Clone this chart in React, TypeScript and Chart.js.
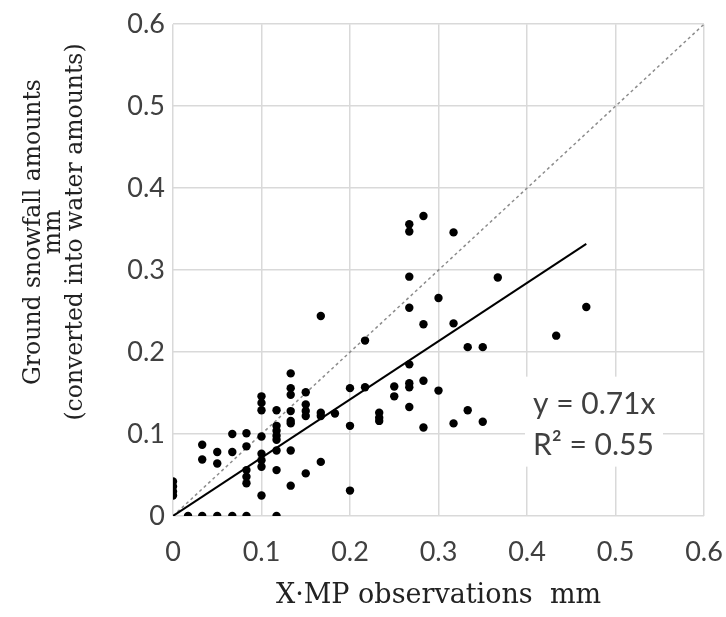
import React, { useEffect, useRef } from 'react';
import { Chart, registerables } from 'chart.js';
Chart.register(...registerables);

// Observations (x: X-MP mm, y: ground snowfall water equivalent mm)
const obsX = [
  0, 0, 0, 0,
  0.017,
  0.033, 0.033, 0.033,
  0.05, 0.05, 0.05,
  0.067, 0.067, 0.067,
  0.083, 0.083, 0.083, 0.083, 0.083, 0.083,
  0.1, 0.1, 0.1, 0.1, 0.1, 0.1, 0.1, 0.1,
  0.117, 0.117, 0.117, 0.117, 0.117, 0.117, 0.117, 0.117,
  0.133, 0.133, 0.133, 0.133, 0.133, 0.133, 0.133, 0.133,
  0.15, 0.15, 0.15, 0.15, 0.15,
  0.167, 0.167, 0.167, 0.167,
  0.183,
  0.2, 0.2, 0.2,
  0.217, 0.217,
  0.233, 0.233, 0.233,
  0.25, 0.25,
  0.267, 0.267, 0.267, 0.267, 0.267, 0.267, 0.267, 0.267,
  0.283, 0.283, 0.283, 0.283,
  0.3, 0.3,
  0.317, 0.317, 0.317,
  0.333, 0.333,
  0.35, 0.35,
  0.367,
  0.433,
  0.467,
];
const obsY = [
  0.025, 0.03, 0.036, 0.042,
  0,
  0, 0.069, 0.087,
  0, 0.064, 0.078,
  0, 0.078, 0.1,
  0, 0.04, 0.048, 0.056, 0.085, 0.101,
  0.025, 0.06, 0.068, 0.076, 0.097, 0.129, 0.138, 0.146,
  0, 0.056, 0.08, 0.093, 0.098, 0.104, 0.11, 0.129,
  0.037, 0.08, 0.113, 0.116, 0.128, 0.148, 0.156, 0.174,
  0.052, 0.122, 0.128, 0.136, 0.151,
  0.066, 0.122, 0.126, 0.244,
  0.125,
  0.031, 0.11, 0.156,
  0.157, 0.214,
  0.116, 0.12, 0.126,
  0.146, 0.158,
  0.133, 0.157, 0.162, 0.185, 0.254, 0.292, 0.347, 0.356,
  0.108, 0.165, 0.234, 0.366,
  0.153, 0.266,
  0.113, 0.235, 0.346,
  0.129, 0.206,
  0.115, 0.206,
  0.291,
  0.22,
  0.255,
];

// Regression line y = 0.71x (endpoints)
const fitX = [0, 0.467];
const fitY = [0, 0.332];
// 1:1 reference line
const refX = [0, 0.6];
const refY = [0, 0.6];

const tickLabels = ['0', '0.1', '0.2', '0.3', '0.4', '0.5', '0.6'];
const yTitleLines = ['Ground snowfall amounts', 'mm', '(converted into water amounts)'];
const xTitle = 'X\u00B7MP observations  mm';
const eqLines = ['y = 0.71x', 'R\u00B2 = 0.55'];

const TEXT = '#404040';
const GRID = '#d9d9d9';
const TICK_FONT = 'Lato';
const SERIF = "'DejaVu Serif', serif";

const toPts = (xs: number[], ys: number[]) => xs.map((x, i) => ({ x, y: ys[i] }));

const overlayPlugin = {
  id: 'overlay',
  afterDraw(chart: any) {
    const ctx = chart.ctx as CanvasRenderingContext2D;
    // y-axis title (rotated, three lines)
    ctx.save();
    ctx.fillStyle = '#222';
    ctx.font = `23.5px ${SERIF}`;
    ctx.textAlign = 'center';
    ctx.textBaseline = 'alphabetic';
    const baselines = [40, 60, 82];
    const cy = 232;
    yTitleLines.forEach((line, i) => {
      ctx.save();
      ctx.translate(baselines[i], cy);
      ctx.rotate(-Math.PI / 2);
      ctx.fillText(line, 0, 0);
      ctx.restore();
    });
    ctx.restore();

    // equation box
    const xs = chart.scales.x;
    const ys = chart.scales.y;
    const left = xs.getPixelForValue(0.4);
    const top = ys.getPixelForValue(0.17);
    ctx.save();
    ctx.fillStyle = '#ffffff';
    ctx.fillRect(left - 2, top, 138, 90);
    ctx.fillStyle = TEXT;
    ctx.font = `30px ${TICK_FONT}`;
    ctx.textAlign = 'left';
    ctx.textBaseline = 'alphabetic';
    ctx.fillText(eqLines[0], left + 6, top + 37);
    ctx.fillText(eqLines[1], left + 6, top + 78);
    ctx.restore();
  },
};

export default function App() {
  const ref = useRef<HTMLCanvasElement | null>(null);
  useEffect(() => {
    if (!ref.current) return;
    const chart = new Chart(ref.current, {
      type: 'scatter',
      data: {
        datasets: [
          {
            label: 'obs',
            data: toPts(obsX, obsY),
            backgroundColor: '#000',
            borderWidth: 0,
            pointRadius: 4.2,
            pointHoverRadius: 4.2,
          },
          {
            type: 'line',
            label: 'fit',
            data: toPts(fitX, fitY),
            borderColor: '#000',
            borderWidth: 2,
            pointRadius: 0,
            fill: false,
          },
          {
            type: 'line',
            label: '1:1',
            data: toPts(refX, refY),
            borderColor: '#8c8c8c',
            borderWidth: 1.5,
            borderDash: [3, 3],
            pointRadius: 0,
            fill: false,
          },
        ] as any,
      },
      options: {
        responsive: false,
        animation: false,
        layout: { padding: { left: 0, right: 22, top: 17, bottom: 0 } },
        plugins: { legend: { display: false }, tooltip: { enabled: false } },
        scales: {
          x: {
            type: 'linear',
            min: 0,
            max: 0.6,
            ticks: {
              stepSize: 0.1,
              color: TEXT,
              font: { family: TICK_FONT, size: 27 },
              padding: 20,
              maxRotation: 0,
              callback: (v: any) => tickLabels[Math.round(Number(v) * 10)],
            },
            grid: { color: GRID, lineWidth: 1.5, drawTicks: false },
            border: { display: false },
            title: {
              display: true,
              text: xTitle,
              color: '#222',
              font: { family: SERIF, size: 27 },
              padding: { top: 0, bottom: 5 },
            },
            afterFit: (s: any) => { s.height = 101; s.paddingRight = 0; s.paddingLeft = 0; },
          },
          y: {
            type: 'linear',
            min: 0,
            max: 0.6,
            ticks: {
              stepSize: 0.1,
              color: TEXT,
              font: { family: TICK_FONT, size: 27 },
              padding: 8,
              callback: (v: any) => tickLabels[Math.round(Number(v) * 10)],
            },
            grid: { color: GRID, lineWidth: 1.5, drawTicks: false },
            border: { display: false },
            afterFit: (s: any) => { s.width = 173; },
          },
        },
      } as any,
      plugins: [overlayPlugin],
    });
    return () => chart.destroy();
  }, []);
  return (
    <div style={{ position: 'absolute', left: 0, top: 0, width: 726, height: 617, background: '#fff' }}>
      <canvas ref={ref} width={726} height={617} />
    </div>
  );
}
